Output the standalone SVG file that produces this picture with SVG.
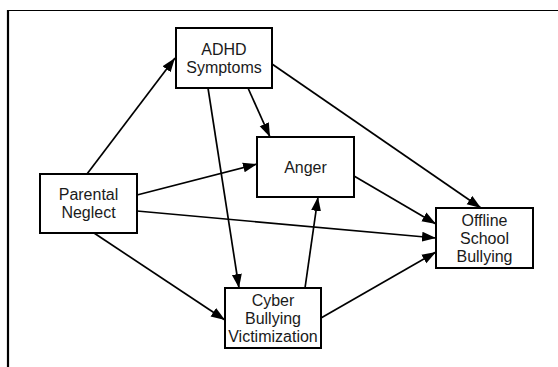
<svg xmlns="http://www.w3.org/2000/svg" width="558" height="367" viewBox="0 0 558 367">
<defs>
<marker id="arr" markerUnits="userSpaceOnUse" markerWidth="16" markerHeight="12" refX="14" refY="5.5" orient="auto">
<path d="M0,0.5 L14,5.5 L0,10.5 z" fill="#000"/>
</marker>
<style>
.box{fill:#fff;stroke:#000;stroke-width:2}
.lbl{font-family:"Liberation Sans",Arial,sans-serif;font-size:16px;fill:#1a1a1a;text-anchor:middle}
.edge{stroke:#000;stroke-width:1.7;fill:none;marker-end:url(#arr)}
</style>
</defs>
<rect width="558" height="367" fill="#fff"/>
<g id="frame">
<line x1="7" y1="10.5" x2="558" y2="10.5" stroke="#000" stroke-width="1.2"/>
<line x1="8" y1="10" x2="8" y2="367" stroke="#000" stroke-width="2.2"/>
</g>
<g id="connectors">
<line class="edge" x1="87" y1="174" x2="175" y2="58"/>
<line class="edge" x1="248" y1="88" x2="270" y2="137"/>
<line class="edge" x1="208" y1="88" x2="239" y2="288"/>
<line class="edge" x1="272" y1="64" x2="481" y2="208"/>
<line class="edge" x1="137" y1="195" x2="257" y2="164"/>
<line class="edge" x1="137" y1="211" x2="436" y2="238"/>
<line class="edge" x1="94" y1="233" x2="225" y2="320"/>
<line class="edge" x1="354" y1="176" x2="436" y2="224"/>
<line class="edge" x1="305" y1="288" x2="318" y2="197"/>
<line class="edge" x1="321" y1="318" x2="436" y2="252"/>
</g>
<g id="adhd">
<rect class="box" x="176" y="28" width="96" height="60"/>
<text class="lbl" x="224" y="55">ADHD</text>
<text class="lbl" x="224" y="73">Symptoms</text>
</g>
<g id="parental">
<rect class="box" x="40" y="174" width="97" height="59"/>
<text class="lbl" x="88.5" y="200">Parental</text>
<text class="lbl" x="88.5" y="218">Neglect</text>
</g>
<g id="anger">
<rect class="box" x="257" y="137" width="97" height="60"/>
<text class="lbl" x="305.5" y="173">Anger</text>
</g>
<g id="offline">
<rect class="box" x="436" y="208" width="97" height="60"/>
<text class="lbl" x="484.5" y="226">Offline</text>
<text class="lbl" x="484.5" y="244">School</text>
<text class="lbl" x="484.5" y="262">Bullying</text>
</g>
<g id="cyber">
<rect class="box" x="225" y="288" width="96" height="60"/>
<text class="lbl" x="273" y="306">Cyber</text>
<text class="lbl" x="273" y="324">Bullying</text>
<text class="lbl" x="273" y="342">Victimization</text>
</g>
</svg>
